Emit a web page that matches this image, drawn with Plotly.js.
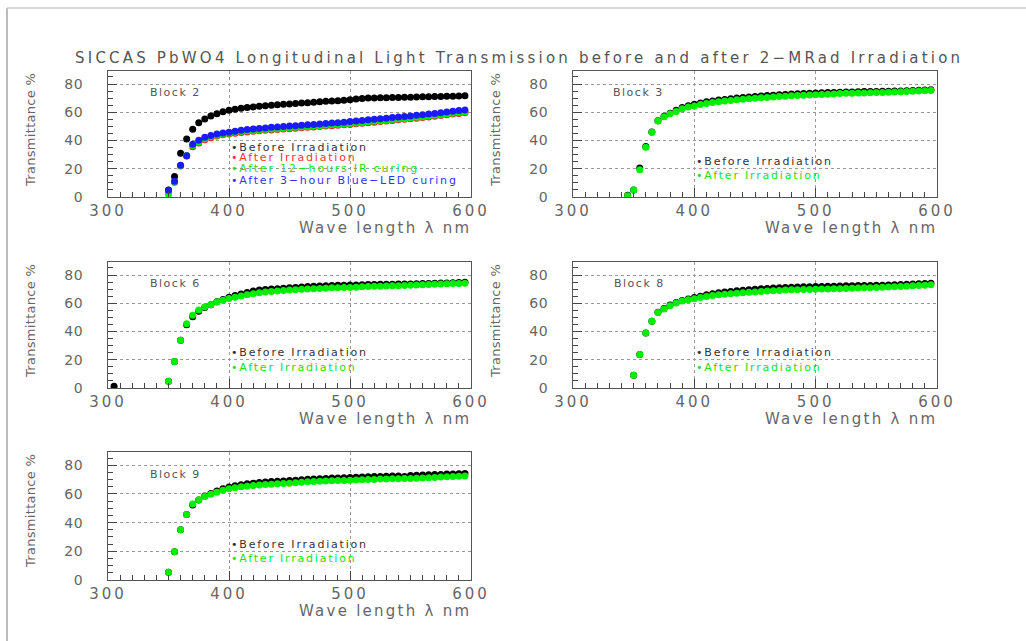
<!DOCTYPE html>
<html>
<head>
<meta charset="utf-8">
<script src="https://cdn.plot.ly/plotly-3.0.1.min.js"></script>
<style>
  html, body { margin: 0; padding: 0; background: #fff; }
  #chart { width: 1026px; height: 641px; }
  .xaxislayer-above text { letter-spacing: 3px; }
  .yaxislayer-above text { letter-spacing: 0.5px; }
  .gtitle { letter-spacing: 3.2px; }
</style>
<style id="annstyle"></style>
</head>
<body>
<div id="chart"></div>
<script>
// ---------------- data ----------------
const title = "SICCAS PbWO4 Longitudinal Light Transmission before and after 2\u2212MRad Irradiation";
const xTitle = "Wave length \u03bb nm";
const yTitle = "Transmittance %";

const wl = [350,355,360,365,370,375,380,385,390,395,400,405,410,415,420,425,430,435,440,445,
            450,455,460,465,470,475,480,485,490,495,500,505,510,515,520,525,530,535,540,545,
            550,555,560,565,570,575,580,585,590,595];
const wl3 = [345,350,355,360,365,370,375,380,385,390,395,400,405,410,415,420,425,430,435,440,445,
            450,455,460,465,470,475,480,485,490,495,500,505,510,515,520,525,530,535,540,545,
            550,555,560,565,570,575,580,585,590,595];
const wl6b = [305,350,355,360,365,370,375,380,385,390,395,400,405,410,415,420,425,430,435,440,445,
            450,455,460,465,470,475,480,485,490,495,500,505,510,515,520,525,530,535,540,545,
            550,555,560,565,570,575,580,585,590,595];

// Block 2
const b2Before = [5,14.5,31,41,48,52.5,55.2,57.4,59,60.4, 61.5,62.2,62.8,63.3,63.8,64.2,64.6,65,65.3,65.6,
  65.9,66.2,66.5,66.8,67.1,67.4,67.7,68,68.2,68.5, 68.8,69.3,69.8,70,70.1,70.2,70.3,70.4,70.5,70.6,
  70.7,70.8,70.9,71,71.1,71.2,71.3,71.4,71.5,71.6];
const b2Irr = [3,10.5,22,29,35.5,38.3,40.6,42,43.2,44, 44.6,45.2,45.7,46.1,46.5,46.9,47.2,47.5,47.8,48.1,
  48.4,48.7,49,49.3,49.6,49.9,50.2,50.5,50.8,51.1, 51.4,51.8,52.2,52.6,53,53.4,53.8,54.2,54.6,55,
  55.4,55.8,56.2,56.7,57.2,57.7,58.2,58.7,59.2,59.7];
const b2IR = [2,10.8,22.3,29.3,36.5,39,41.3,42.7,43.8,44.6, 45.2,45.8,46.3,46.7,47.1,47.5,47.8,48.1,48.4,48.7,
  49,49.3,49.6,49.9,50.2,50.5,50.8,51.1,51.4,51.7, 52,52.4,52.8,53.2,53.6,54,54.4,54.8,55.2,55.6,
  56,56.4,56.8,57.3,57.8,58.3,58.8,59.3,59.8,60.2];
const b2LED = [4.8,11.2,22.5,29.2,37.3,40.2,42.3,43.5,44.6,45.3, 45.9,46.6,47.2,47.7,48.1,48.5,48.9,49.3,49.6,49.9,
  50.2,50.5,50.8,51.1,51.4,51.7,52,52.3,52.6,53, 53.4,53.8,54.2,54.6,55,55.4,55.8,56.2,56.6,57,
  57.4,57.8,58.2,58.7,59.2,59.7,60.2,60.7,61.2,61.6];

// Block 3
const b3Before = [1.2,5,20.5,35.7,46,54,57.2,59.3,61.5,63.3,64.6, 65.7,66.6,67.4,68,68.6,69.1,69.6,70,70.5,70.8,
  71.2,71.5,71.8,72.1,72.4,72.6,72.9,73.1,73.3,73.5, 73.6,73.8,73.9,74,74.2,74.3,74.4,74.5,74.6,74.7,
  74.7,74.8,74.9,75,75.1,75.3,75.4,75.6,75.7,75.9];
const b3After = [0.8,5,19.3,35.3,45.8,53.8,56.8,58.9,60.5,62.4,63.7, 64.5,65.4,66.2,66.9,67.5,68,68.4,68.8,69.2,69.5,
  69.9,70.2,70.5,70.8,71.1,71.3,71.6,71.8,72,72.2, 72.4,72.6,72.8,73,73.2,73.4,73.5,73.6,73.7,73.8,
  73.9,74,74.2,74.4,74.5,74.7,74.9,75,75.2,75.4];

// Block 6
const b6Before = [1.2, 4.8,18.8,33.8,44.8,50.5,54.4,57,59,61,62.7, 64.2,65.4,66.5,67.6,68.6,69.3,69.7,70,70.3,70.6,
  70.9,71.2,71.5,71.8,72,72.2,72.4,72.6,72.7,72.8, 72.9,73,73.1,73.2,73.3,73.4,73.4,73.5,73.6,73.6,
  73.7,73.8,73.9,74,74.1,74.3,74.4,74.5,74.6,74.8];
const b6After = [4.8,18.8,33.8,45.5,51.5,55.3,57.3,59,60.8,62.2, 63.3,64.3,65.2,66,66.8,67.4,67.9,68.3,68.7,69,
  69.3,69.6,69.9,70.1,70.3,70.5,70.7,70.9,71,71.1, 71.2,71.4,71.6,71.8,72,72.1,72.2,72.3,72.4,72.5,
  72.7,72.9,73.1,73.3,73.5,73.6,73.8,73.9,74,74.1];

// Block 8
const b8Before = [9,23.7,39,47.3,53.7,56.3,58.7,60.6,62,63, 64,65,66,66.8,67.4,67.9,68.4,68.8,69.2,69.5,
  69.9,70.2,70.5,70.8,71,71.2,71.4,71.5,71.6,71.7, 71.8,71.9,72,72.1,72.2,72.3,72.4,72.5,72.5,72.6,
  72.7,72.8,72.9,73.1,73.3,73.5,73.7,73.8,74,74.1];
const b8After = [9,23.7,39,47.3,53.5,56,58.3,60.2,61.6,62.5, 63.2,64,64.8,65.5,66,66.4,66.8,67.1,67.4,67.7,
  68,68.3,68.6,68.9,69.1,69.3,69.5,69.6,69.7,69.8, 69.9,70,70.1,70.2,70.3,70.5,70.7,70.8,70.9,71,
  71.1,71.3,71.5,71.7,71.9,72.1,72.4,72.6,72.8,73.1];

// Block 9
const b9Before = [5.4,19.6,35,45.6,52.3,55.7,58.5,60.3,62,63.6, 64.8,65.7,66.4,67,67.4,67.9,68.3,68.6,68.8,69,
  69.3,69.6,69.9,70.2,70.4,70.6,70.8,71,71.1,71.3, 71.4,71.6,71.8,72,72.1,72.2,72.3,72.4,72.4,72.2,
  72.8,73,73.2,73.4,73.5,73.6,73.8,73.9,74.1,74.2];
const b9After = [5.4,19.6,35,45.6,53,55.9,58.2,59.8,61.2,62.5, 63.6,64.3,64.9,65.4,65.8,66.2,66.5,66.8,67,67.2,
  67.5,67.8,68.1,68.4,68.6,68.8,69,69.2,69.3,69.4, 69.5,69.7,69.9,70,70.1,70.3,70.4,70.5,70.6,70.7,
  70.8,70.9,71.1,71.3,71.5,71.7,71.9,72.1,72.3,72.5];

const blockNames = ["Block 2", "Block 3", "Block 6", "Block 8", "Block 9"];
const legBlock2 = ["Before Irradiation", "After Irradiation", "After 12\u2212hours IR curing", "After 3\u2212hour Blue\u2212LED curing"];
const legOther = ["Before Irradiation", "After Irradiation"];

// ---------------- styling ----------------
const FONT = "DejaVu Sans";
const C_BLACK = "#000000", C_RED = "#ff1a1a", C_GREEN = "#00ee00", C_BLUE = "#1a1aff";
const legColors = ["#333333", "#ff3333", "#22dd22", "#3333ff"];
const BULLET = "\u2022";

// letter spacing per annotation text (matched on the text itself so Plotly's
// hidden measuring copy gets the same spacing and anchoring stays right)
const textSpacing = {};
blockNames.forEach(function (t) { textSpacing[t] = 1.5; });
textSpacing[xTitle] = 2.25;
textSpacing[yTitle] = 0.3;
legBlock2.concat(legOther).forEach(function (t) { textSpacing[BULLET + t] = 1.8; });
document.getElementById("annstyle").textContent = Object.keys(textSpacing).map(function (t) {
  return 'text[data-unformatted="' + t + '"] { letter-spacing: ' + textSpacing[t] + 'px; }';
}).join("\n");

function tr(x, y, color, ax) {
  return { x: x, y: y, type: "scatter", mode: "markers", xaxis: "x" + ax, yaxis: "y" + ax,
           marker: { color: color, size: 7, symbol: "circle" }, showlegend: false, hoverinfo: "skip" };
}

const data = [
  tr(wl, b2Before, C_BLACK, ""), tr(wl, b2Irr, C_RED, ""), tr(wl, b2IR, C_GREEN, ""), tr(wl, b2LED, C_BLUE, ""),
  tr(wl3, b3Before, C_BLACK, "2"), tr(wl3, b3After, C_GREEN, "2"),
  tr(wl6b, b6Before, C_BLACK, "3"), tr(wl, b6After, C_GREEN, "3"),
  tr(wl, b8Before, C_BLACK, "4"), tr(wl, b8After, C_GREEN, "4"),
  tr(wl, b9Before, C_BLACK, "5"), tr(wl, b9After, C_GREEN, "5")
];

const W = 1026, H = 641;
const colL = [108 / W, 471 / W], colR = [573 / W, 937 / W];
const row1 = [1 - 197 / H, 1 - 71 / H], row2 = [1 - 388 / H, 1 - 262 / H], row3 = [1 - 580 / H, 1 - 452 / H];

function xax(domain, anchor) {
  return {
    domain: domain, anchor: anchor, range: [300, 600], tick0: 300, dtick: 100,
    ticks: "inside", ticklen: 9, tickcolor: "#444", tickwidth: 1,
    minor: { dtick: 10, ticks: "inside", ticklen: 5, tickcolor: "#444", showgrid: false },
    showgrid: true, gridcolor: "#999", griddash: "dot", gridwidth: 1,
    showline: true, linecolor: "#555", linewidth: 1, mirror: true, zeroline: false,
    tickfont: { family: FONT, size: 15, color: "#666" }, fixedrange: true
  };
}
function yax(domain, anchor) {
  return {
    domain: domain, anchor: anchor, range: [0, 89.2], tick0: 0, dtick: 20,
    ticks: "inside", ticklen: 9, tickcolor: "#444", tickwidth: 1,
    minor: { dtick: 5, ticks: "inside", ticklen: 5, tickcolor: "#444", showgrid: false },
    showgrid: true, gridcolor: "#999", griddash: "dot", gridwidth: 1,
    showline: true, linecolor: "#555", linewidth: 1, mirror: true, zeroline: false,
    ticklabelstandoff: 21,
    tickfont: { family: FONT, size: 14, color: "#666" }, fixedrange: true
  };
}

const annotations = [];
const axes = ["", "2", "3", "4", "5"];
const blockPos = [[333, 74.1], [331, 74], [333, 73.9], [332, 74], [333, 73.7]];
axes.forEach(function (a, i) {
  const xr = "x" + a, yr = "y" + a;
  annotations.push({ text: blockNames[i], x: blockPos[i][0], y: blockPos[i][1], xref: xr, yref: yr,
    xanchor: "left", yanchor: "middle", showarrow: false, font: { family: FONT, size: 11, color: "#555" } });
  annotations.push({ text: xTitle, x: 1, y: 0, xref: xr + " domain", yref: yr + " domain",
    xanchor: "right", yanchor: "middle", yshift: -30.5, xshift: 2, showarrow: false,
    font: { family: FONT, size: 15, color: "#666" } });
  annotations.push({ text: yTitle, x: 0, y: 1, xref: xr + " domain", yref: yr + " domain",
    xanchor: "center", yanchor: "top", xshift: -78, textangle: -90, showarrow: false,
    font: { family: FONT, size: 13, color: "#666" } });
});
// legends
const leg2Y = [35.3, 28.0, 20.2, 12.0];
legBlock2.forEach(function (t, k) {
  annotations.push({ text: BULLET + t, x: 400.8, y: leg2Y[k], xref: "x", yref: "y", xanchor: "left", yanchor: "middle",
    showarrow: false, borderpad: 0, font: { family: FONT, size: 11, color: legColors[k] } });
});
const legOtherY = [[25, 14.9], [24.8, 14.5], [24.8, 14.5], [25, 15.2]];
["2", "3", "4", "5"].forEach(function (a, i) {
  legOther.forEach(function (t, k) {
    annotations.push({ text: BULLET + t, x: 400.6, y: legOtherY[i][k], xref: "x" + a, yref: "y" + a,
      xanchor: "left", yanchor: "middle", showarrow: false, borderpad: 0,
      font: { family: FONT, size: 11, color: k === 0 ? legColors[0] : legColors[2] } });
  });
});

const layout = {
  width: W, height: H, margin: { l: 0, r: 0, t: 0, b: 0 },
  paper_bgcolor: "#ffffff", plot_bgcolor: "#ffffff",
  title: { text: title, x: 0.506, xanchor: "center", y: 1 - 58 / H, yanchor: "middle",
           font: { family: FONT, size: 15, color: "#555" } },
  xaxis: xax(colL, "y"), yaxis: yax(row1, "x"),
  xaxis2: xax(colR, "y2"), yaxis2: yax(row1, "x2"),
  xaxis3: xax(colL, "y3"), yaxis3: yax(row2, "x3"),
  xaxis4: xax(colR, "y4"), yaxis4: yax(row2, "x4"),
  xaxis5: xax(colL, "y5"), yaxis5: yax(row3, "x5"),
  annotations: annotations,
  shapes: [
    { type: "line", xref: "paper", yref: "paper", x0: 7 / W, x1: 7 / W, y0: 0, y1: 1 - 8 / H, line: { color: "#bbb", width: 2 } },
    { type: "line", xref: "paper", yref: "paper", x0: 7 / W, x1: 1, y0: 1 - 8 / H, y1: 1 - 8 / H, line: { color: "#ccc", width: 1.5 } }
  ],
  showlegend: false
};

Plotly.newPlot("chart", data, layout, { displayModeBar: false, staticPlot: true });
</script>
</body>
</html>
